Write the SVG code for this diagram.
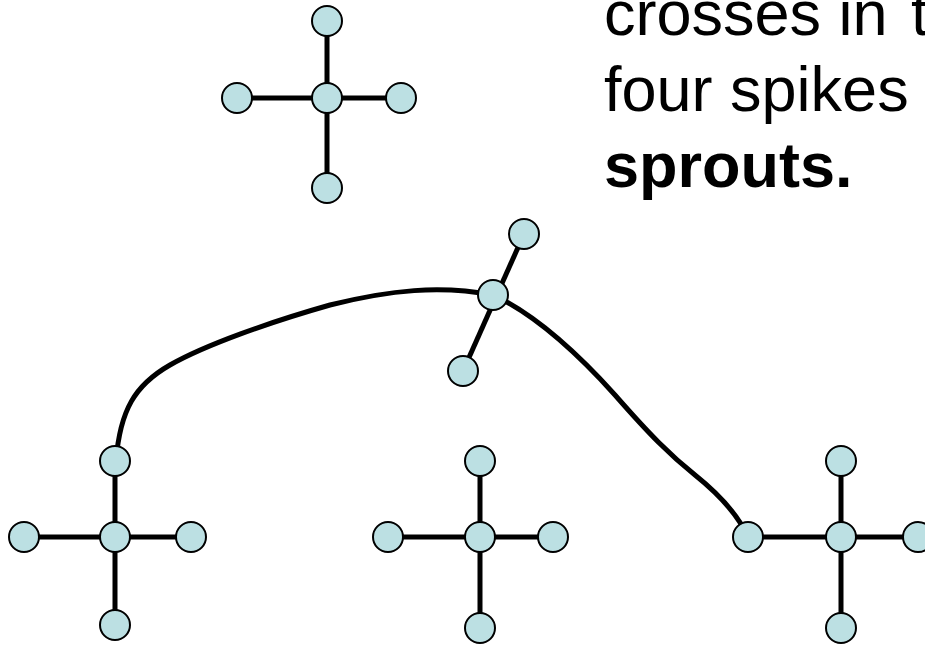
<svg xmlns="http://www.w3.org/2000/svg" width="925" height="645" viewBox="0 0 925 645">
<style>
.e{stroke:#000;stroke-width:5;fill:none;stroke-linecap:butt}
.n{fill:#bce0e3;stroke:#000;stroke-width:2}
.t{font-family:"Liberation Sans",Arial,sans-serif;font-size:63px;fill:#000}
</style>
<rect width="925" height="645" fill="#fff"/>
<g id="connectors">
<path class="e" d="M327,21V188M237,98H401"/>
<path class="e" d="M115,461V625M24,537H191"/>
<path class="e" d="M480,461V628M388,537H553"/>
<path class="e" d="M841,461V628M748,537H918"/>
<path class="e" d="M524,234L463,371"/>
<path class="e" d="M116,461C120,410 135,385 170,365C205,345 270,322 330,305C390,290 440,285 493,295C530,312 570,345 615,395C650,435 670,455 695,475C720,495 738,515 748,537"/>
</g>
<g id="cross-top">
<circle class="n" cx="327" cy="21" r="15"/><circle class="n" cx="237" cy="98" r="15"/><circle class="n" cx="327" cy="98" r="15"/><circle class="n" cx="401" cy="98" r="15"/><circle class="n" cx="327" cy="188" r="15"/>
</g>
<g id="cross-left">
<circle class="n" cx="115" cy="461" r="15"/><circle class="n" cx="24" cy="537" r="15"/><circle class="n" cx="115" cy="537" r="15"/><circle class="n" cx="191" cy="537" r="15"/><circle class="n" cx="115" cy="625" r="15"/>
</g>
<g id="cross-mid">
<circle class="n" cx="480" cy="461" r="15"/><circle class="n" cx="388" cy="537" r="15"/><circle class="n" cx="480" cy="537" r="15"/><circle class="n" cx="553" cy="537" r="15"/><circle class="n" cx="480" cy="628" r="15"/>
</g>
<g id="cross-right">
<circle class="n" cx="841" cy="461" r="15"/><circle class="n" cx="748" cy="537" r="15"/><circle class="n" cx="841" cy="537" r="15"/><circle class="n" cx="918" cy="537" r="15"/><circle class="n" cx="841" cy="628" r="15"/>
</g>
<g id="sprout-new">
<circle class="n" cx="524" cy="234" r="15"/><circle class="n" cx="493" cy="295" r="15"/><circle class="n" cx="463" cy="371" r="15"/>
</g>
<g id="caption">
<text class="t" x="604" y="35">crosses in <tspan dx="6">t</tspan></text>
<text class="t" x="604" y="111">four spikes</text>
<text class="t" x="604" y="187" font-weight="bold">sprouts.</text>
</g>
</svg>
